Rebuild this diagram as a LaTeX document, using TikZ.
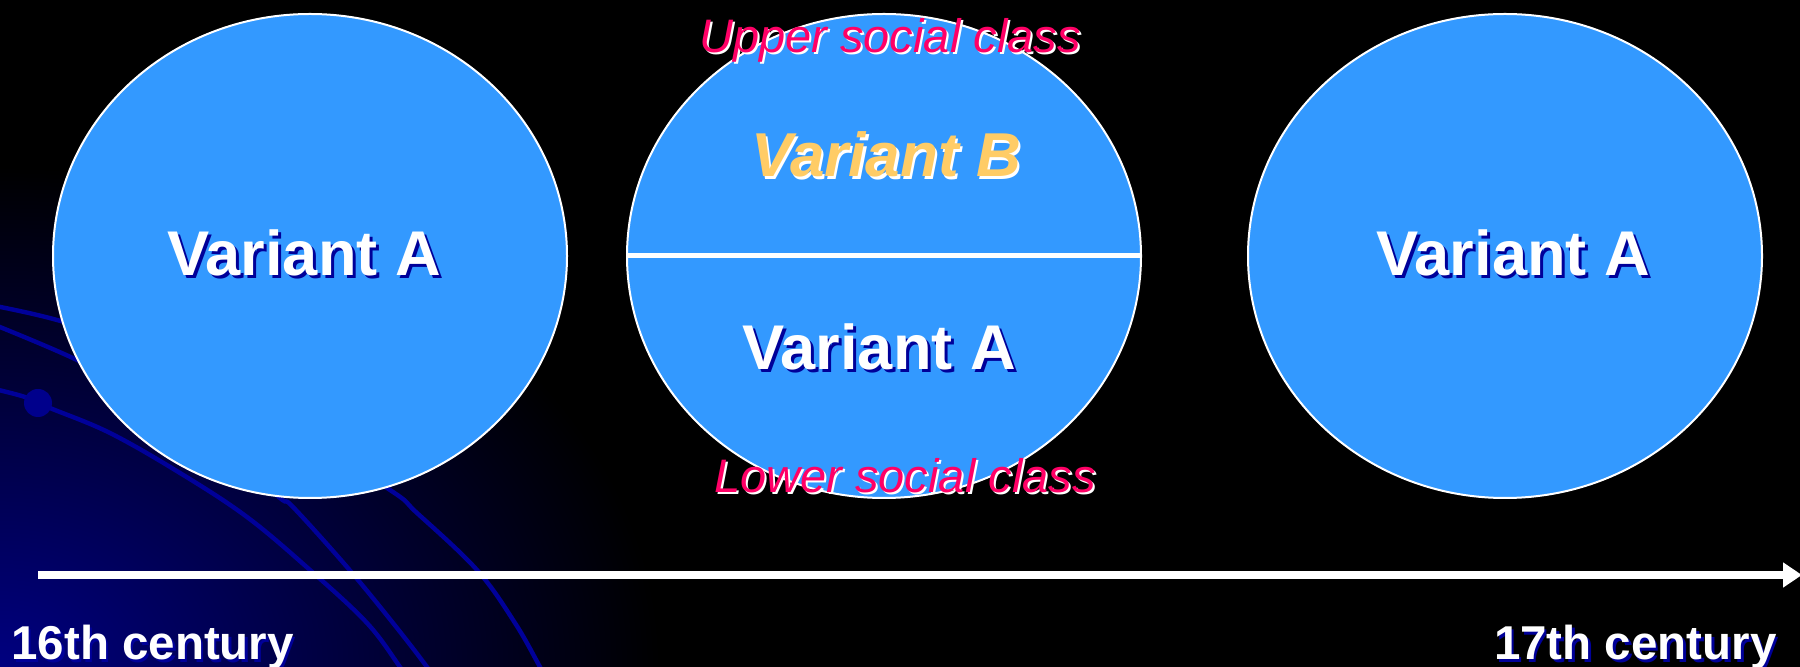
\documentclass[tikz,border=0pt]{standalone}
\usepackage{fontspec}
\setmainfont{Liberation Sans}
\usetikzlibrary{shapes.geometric,arrows.meta}
\definecolor{cfill}{HTML}{3399FF}
\definecolor{cnavy}{RGB}{0,0,153}
\definecolor{cgrad}{RGB}{0,0,128}
\definecolor{csphere}{RGB}{0,0,140}
\definecolor{corange}{HTML}{FFCC66}
\definecolor{cpink}{HTML}{FF0066}
\newcommand\shtxt[3]{\makebox[0pt][l]{\hspace*{#2}\raisebox{-#2}[0pt][0pt]{\textcolor{#1}{#3}}}#3}
\begin{document}
\begin{tikzpicture}[x=0.5pt,y=-0.5pt,
  bubble/.style={ellipse, draw=white, line width=1pt, fill=cfill, minimum width=257pt, minimum height=242pt, inner sep=0pt},
  varA/.style={anchor=base, inner sep=0pt, text=white, font=\fontsize{31.6}{36}\selectfont\bfseries},
  varB/.style={anchor=base, inner sep=0pt, text=corange, font=\fontsize{31}{36}\selectfont\bfseries\itshape},
  social/.style={anchor=base, inner sep=0pt, text=cpink, font=\fontsize{23.5}{28}\selectfont\itshape},
  century/.style={inner sep=0pt, text=white, font=\fontsize{23.75}{28}\selectfont\bfseries},
  swirl/.style={draw=cnavy, line width=2.2pt},
  timeline/.style={draw=white, line width=4pt, -{Triangle[length=9.5pt, width=12pt]}},
]
\useasboundingbox (0,0) rectangle (1800,667);
\fill[black] (0,0) rectangle (1800,667);
% background decoration
\begin{scope}
  \clip (0,0) rectangle (1800,667);
  \shade[inner color=cgrad, outer color=black] (0,667) ellipse [x radius=330pt, y radius=250pt];
  \draw[swirl] plot[smooth, tension=0.6] coordinates {(-10,388) (25,397) (50,408) (110,433) (180,473) (247,517) (310,570) (367,623) (400,667) (410,682)};
  \draw[swirl] plot[smooth, tension=0.6] coordinates {(-10,323) (77,360) (150,400) (230,455) (280,498) (293,507) (347,567) (393,623) (427,667) (436,682)};
  \draw[swirl] plot[smooth, tension=0.6] coordinates {(-10,305) (57,320) (150,350) (260,410) (387,488) (417,513) (477,570) (515,623) (540,667) (548,682)};
  \fill[csphere] (38,403) circle [radius=7pt];
\end{scope}
% bubbles
\node[bubble] (c1) at (310,256) {};
\node[bubble] (c2) at (884,256) {};
\node[bubble] (c3) at (1505,256) {};
\draw[white, line width=2.5pt] (c2.west) -- (c2.east);
% texts
\node[varA] (t1) at (304,276) {\shtxt{cnavy}{1.5pt}{Variant A}};
\node[varB] (t2) at (886,177) {\shtxt{white}{1.2pt}{Variant B}};
\node[varA] (t3) at (879,370) {\shtxt{cnavy}{1.5pt}{Variant A}};
\node[varA] (t4) at (1513,276) {\shtxt{cnavy}{1.5pt}{Variant A}};
\node[social] (up) at (890,53) {\shtxt{white}{1pt}{Upper social class}};
\node[social] (low) at (905,493) {\shtxt{white}{1pt}{Lower social class}};
% timeline
\coordinate (ts) at (38,575);
\coordinate (te) at (1802,575);
\draw[timeline] (ts) -- (te);
\node[century, anchor=base west] (c16) at (11,660) {\shtxt{cnavy}{1.2pt}{16th century}};
\node[century, anchor=base east] (c17) at (1777,660) {\shtxt{cnavy}{1.2pt}{17th century}};
\end{tikzpicture}
\end{document}
